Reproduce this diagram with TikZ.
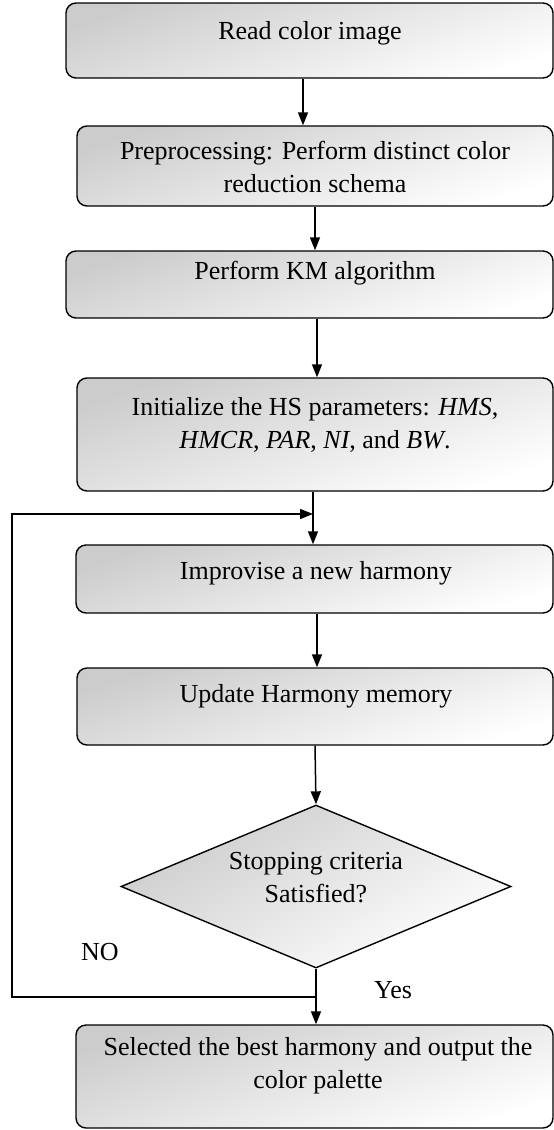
\documentclass[tikz,border=0pt]{standalone}
\usepackage{fontspec}
\setmainfont{Liberation Serif}
\usetikzlibrary{shapes.geometric,arrows.meta,calc}
\begin{document}
\begin{tikzpicture}[x=1pt,y=1pt,
  shadebox/.style={draw, line width=1.4pt, top color=black!20, bottom color=white, shading angle=18, inner sep=0pt},
  roundbox/.style={shadebox, rectangle, rounded corners=10pt},
  lbl/.style={font=\fontsize{26}{33}\selectfont, align=center, inner sep=0pt},
  arr/.style={line width=1.5pt, -{Triangle[length=13pt,width=10pt]}},
  ln/.style={line width=1.5pt}]
\useasboundingbox (0,0) rectangle (554,-1130);
% boxes
\node[roundbox, minimum width=487, minimum height=75]  (b1) at (309.5,-40.5) {};
\node[roundbox, minimum width=476, minimum height=80]  (b2) at (315,-166) {};
\node[roundbox, minimum width=487, minimum height=67]  (b3) at (309.5,-284.5) {};
\node[roundbox, minimum width=476, minimum height=113] (b4) at (315,-434.5) {};
\node[roundbox, minimum width=477, minimum height=68]  (b5) at (314.5,-579) {};
\node[roundbox, minimum width=476, minimum height=77]  (b6) at (315,-706.5) {};
\node[shadebox, diamond, minimum width=390, minimum height=163, shading angle=30] (d) at (316,-886.5) {};
\node[roundbox, minimum width=477, minimum height=103] (b7) at (314.5,-1076.5) {};
% texts
\node[lbl] (t1) at (310,-33) {Read color image};
\node[lbl] (t2) at (315,-166.5) {Preprocessing: Perform distinct color\\reduction schema};
\node[lbl] (t3) at (315,-273) {Perform KM algorithm};
\node[lbl] (t4) at (315,-425) {Initialize the HS parameters: \textit{HMS},\\\textit{HMCR}, \textit{PAR}, \textit{NI}, and \textit{BW}.};
\node[lbl] (t5) at (316,-573) {Improvise a new harmony};
\node[lbl] (t6) at (316,-696) {Update Harmony memory};
\node[lbl] (t7) at (316,-878) {Stopping criteria\\Satisfied?};
\node[lbl] (t8) at (318,-1066) {Selected the best harmony and output the\\color palette};
\node[lbl] (no) at (100,-952) {NO};
\node[lbl] (yes) at (393,-990) {Yes};
% connector x positions
\coordinate (x1) at (303,0);
\coordinate (x2) at (315,0);
\coordinate (x3) at (317,0);
\coordinate (x4) at (313,0);
\coordinate (x5) at (317,0);
\coordinate (x6) at (315,0);
\coordinate (cl) at (12,0);
\coordinate (j) at (313,-514);
\coordinate (j2) at (316,-997);
\draw[arr] (b1.south -| x1) -- (b2.north -| x1);
\draw[arr] (b2.south -| x2) -- (b3.north -| x2);
\draw[arr] (b3.south -| x3) -- (b4.north -| x3);
\draw[arr] (b4.south -| x4) -- (b5.north -| x4);
\draw[arr] (b5.south -| x5) -- (b6.north -| x5);
\draw[arr] (b6.south -| x6) -- (d.north);
\draw[arr] (d.south) -- (b7.north -| d.south);
\draw[arr] (j2) -- (j2 -| cl) -- (j -| cl) -- (j);
\end{tikzpicture}
\end{document}
